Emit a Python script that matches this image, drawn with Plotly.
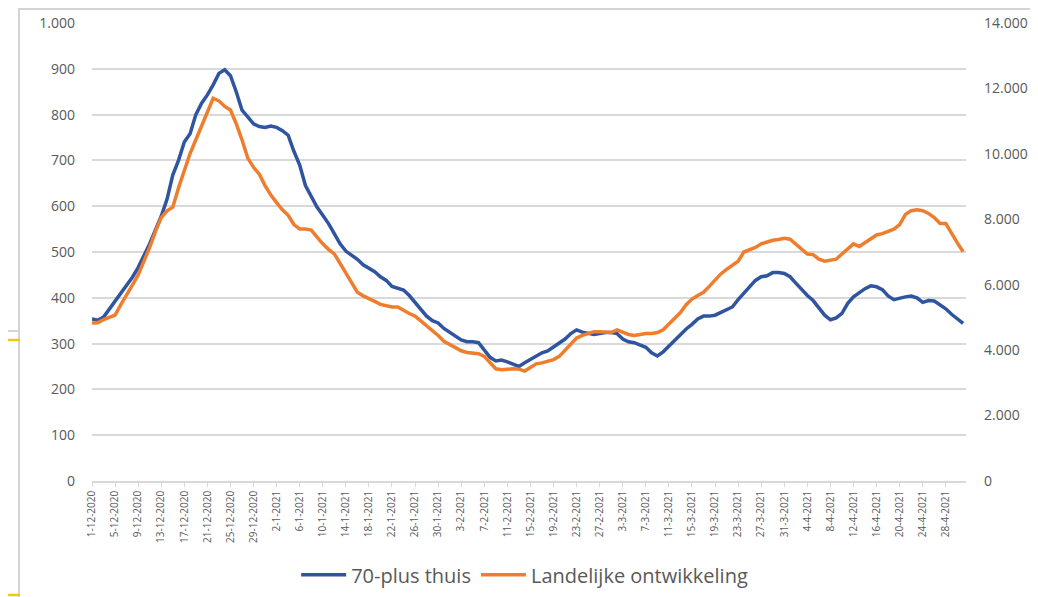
import pandas as pd
import plotly.graph_objects as go

# Daily values, 1-12-2020 .. 1-5-2021
start_date = "2020-12-01"

# 70-plus thuis (left axis)
plus70_thuis = [
    354, 351, 358, 375, 392, 408, 425, 445, 466, 490,
    518, 548, 578, 615, 668, 700, 740, 758, 800, 825,
    843, 865, 890, 898, 885, 850, 810, 795, 780, 774,
    772, 775, 772, 765, 755, 720, 690, 645, 620, 598,
    580, 562, 540, 518, 502, 494, 484, 472, 465, 457,
    446, 438, 425, 420, 417, 405, 390, 375, 360, 350,
    345, 333, 325, 318, 308, 304, 304, 302, 285, 270,
    262, 264, 260, 254, 250, 258, 266, 272, 280, 284,
    292, 300, 310, 322, 330, 325, 322, 320, 322, 324,
    324, 322, 310, 304, 302, 296, 292, 280, 273, 282,
    295, 308, 320, 332, 342, 354, 360, 360, 362, 368,
    374, 380, 396, 410, 425, 438, 446, 448, 455, 455,
    453, 446, 432, 418, 405, 394, 378, 362, 352, 356,
    366, 388, 402, 412, 420, 426, 424, 418, 404, 396,
    400, 402, 404, 400, 390, 394, 393, 385, 376, 364,
    355, 344,
]

# Landelijke ontwikkeling (right axis)
landelijk = [
    4830, 4840, 4930, 5010, 5070, 5390, 5670, 5990, 6300, 6690,
    7140, 7630, 8050, 8260, 8370, 8960, 9520, 10010, 10430, 10850,
    11270, 11700, 11620, 11450, 11340, 10920, 10430, 9870, 9590, 9380,
    9030, 8740, 8510, 8290, 8120, 7840, 7700, 7700, 7670, 7450,
    7250, 7080, 6940, 6650, 6370, 6050, 5770, 5660, 5560, 5490,
    5400, 5350, 5320, 5320, 5210, 5120, 5040, 4900, 4760, 4620,
    4450, 4270, 4170, 4090, 3980, 3930, 3920, 3890, 3810, 3610,
    3430, 3400, 3420, 3430, 3420, 3360, 3470, 3580, 3610, 3670,
    3710, 3810, 3990, 4200, 4370, 4450, 4510, 4560, 4560, 4540,
    4540, 4620, 4540, 4480, 4450, 4480, 4510, 4510, 4540, 4620,
    4790, 4970, 5150, 5390, 5560, 5670, 5770, 5950, 6160, 6330,
    6470, 6580, 6720, 7000, 7070, 7140, 7250, 7310, 7360, 7380,
    7420, 7390, 7250, 7080, 6940, 6920, 6780, 6720, 6750, 6780,
    6940, 7110, 7250, 7170, 7280, 7420, 7520, 7560, 7640, 7700,
    7840, 8150, 8260, 8290, 8260, 8180, 8050, 7870, 7870, 7560,
    7280, 7010,
]

left_ticks = [0, 100, 200, 300, 400, 500, 600, 700, 800, 900, 1000]
right_ticks = [0, 2000, 4000, 6000, 8000, 10000, 12000, 14000]

dates = pd.date_range(start_date, periods=len(plus70_thuis), freq="D")
tick_dates = dates[::4][:38]
tick_text = [f"{d.day}-{d.month}-{d.year}" for d in tick_dates]

BLUE = "#2F54A0"
ORANGE = "#EF7D2E"
GREY = "#595959"
FONT = "'Open Sans', Lato, sans-serif"

fig = go.Figure()
fig.add_trace(go.Scatter(
    x=dates, y=plus70_thuis, name="70-plus thuis", mode="lines",
    line=dict(color=BLUE, width=3.5), yaxis="y"
))
fig.add_trace(go.Scatter(
    x=dates, y=landelijk, name="Landelijke ontwikkeling", mode="lines",
    line=dict(color=ORANGE, width=3.5), yaxis="y2"
))

x_end = dates[0] + pd.Timedelta(hours=24 * 151.5)

# the page puts the figure 8px in from the top-left corner
fig.update_layout(
    width=1030, height=589,
    margin=dict(l=84, r=72, t=15, b=116, autoexpand=False),
    paper_bgcolor="white", plot_bgcolor="white",
    separators=",.",
    font=dict(family=FONT, color=GREY),
    showlegend=True,
    legend=dict(
        orientation="h", x=0.495, xanchor="center", y=-0.162, yanchor="top",
        font=dict(size=20, color=GREY), itemwidth=45, tracegroupgap=0,
    ),
    xaxis=dict(
        range=[dates[0], x_end], automargin=False,
        tickvals=list(tick_dates), ticktext=tick_text, tickangle=-90,
        tickfont=dict(size=10, color=GREY),
        showgrid=False, showline=True, linecolor="#d9d9d9", linewidth=1.5,
        ticks="outside", ticklen=4, tickcolor="#d9d9d9",
        zeroline=False,
    ),
    yaxis=dict(
        range=[0, 1000], tickvals=left_ticks, tickformat=",d", automargin=False,
        tickfont=dict(size=14, color=GREY),
        showgrid=True, gridcolor="#d9d9d9", gridwidth=1.5,
        zeroline=False, showline=False, ticklabelstandoff=16,
    ),
    yaxis2=dict(
        range=[0, 14000], tickvals=right_ticks, tickformat=",d", automargin=False,
        overlaying="y", side="right",
        tickfont=dict(size=14, color=GREY),
        showgrid=False, zeroline=False, showline=False, ticklabelstandoff=17,
    ),
)

# surrounding frame of the original screenshot (screen pixels -> paper)
def px_x(p):
    return (p - 92) / 874


def px_y(p):
    return (481 - p) / 458


frame = dict(color="#d4d4d4", width=2)
fig.add_shape(type="line", xref="paper", yref="paper",
              x0=px_x(18), x1=px_x(1038), y0=px_y(9), y1=px_y(9), line=frame)
fig.add_shape(type="line", xref="paper", yref="paper",
              x0=px_x(19), x1=px_x(19), y0=px_y(8), y1=px_y(597), line=frame)
fig.add_shape(type="line", xref="paper", yref="paper",
              x0=px_x(8), x1=px_x(18), y0=px_y(331), y1=px_y(331), line=frame)
fig.add_shape(type="line", xref="paper", yref="paper",
              x0=px_x(8), x1=px_x(20), y0=px_y(340), y1=px_y(340),
              line=dict(color="#F5C518", width=2.5))
fig.add_shape(type="line", xref="paper", yref="paper",
              x0=px_x(8), x1=px_x(20), y0=px_y(595), y1=px_y(595),
              line=dict(color="#F5C518", width=2.5))

fig.write_html("out.html")
